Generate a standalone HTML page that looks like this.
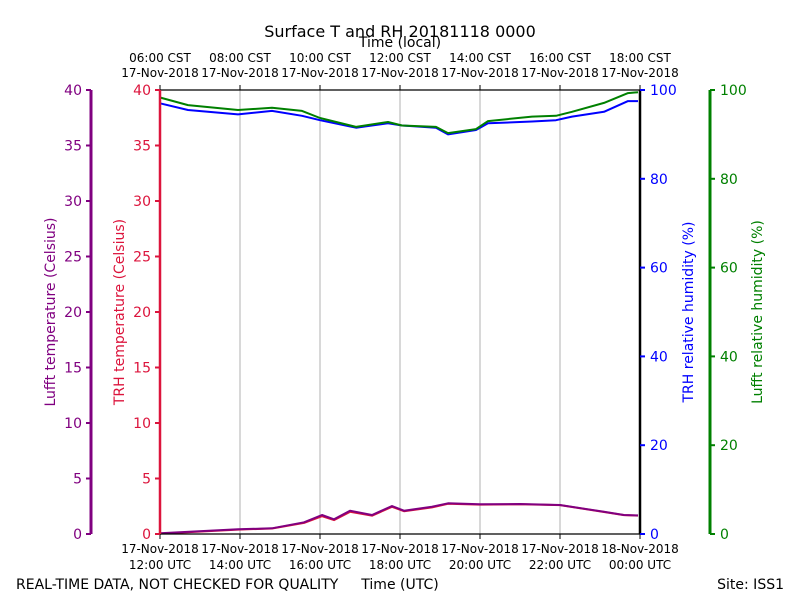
<!DOCTYPE html>
<html><head><meta charset="utf-8"><style>
body{margin:0;background:#fff;}
svg{display:block;font-family:"DejaVu Sans","Liberation Sans",sans-serif;}
</style></head><body>
<svg id="c" width="800" height="600"></svg>
<script>
const hoursT=[0,0.7,1.95,2.8,3.55,4,4.9,5.7,6.05,6.9,7.2,7.9,8.2,9.3,9.9,10.3,11.1,11.7,11.95];
const lufftRH=[98.3,96.6,95.5,96.0,95.3,93.7,91.7,92.8,92.0,91.7,90.3,91.2,93.0,94.0,94.2,95.1,97.1,99.3,99.5];
const trhRH=[97.0,95.5,94.5,95.3,94.2,93.2,91.5,92.5,92.0,91.5,90.0,91.0,92.5,92.9,93.2,94.0,95.1,97.5,97.5];
const hoursTemp=[0,1.95,2.8,3.6,4.05,4.35,4.75,5.3,5.8,6.1,6.8,7.2,8.0,9.0,10.0,11.1,11.6,11.95];
const lufftT=[0.06,0.42,0.51,1.05,1.71,1.32,2.1,1.71,2.52,2.1,2.46,2.77,2.68,2.7,2.61,2.0,1.71,1.68];
const trhT=[0.04,0.4,0.5,1.0,1.6,1.25,2.0,1.65,2.45,2.05,2.4,2.72,2.65,2.68,2.6,1.98,1.7,1.66];
const utcLabels=["12:00 UTC","14:00 UTC","16:00 UTC","18:00 UTC","20:00 UTC","22:00 UTC","00:00 UTC"];
const dateLabels=["17-Nov-2018","17-Nov-2018","17-Nov-2018","17-Nov-2018","17-Nov-2018","17-Nov-2018","18-Nov-2018"];
const cstLabels=["06:00 CST","08:00 CST","10:00 CST","12:00 CST","14:00 CST","16:00 CST","18:00 CST"];
const tempTicks=[0,5,10,15,20,25,30,35,40];
const rhTicks=[0,20,40,60,80,100];

const X0=160,X1=640,Y0=534,Y1=90;
const xs=h=>X0+(X1-X0)*h/12;
const yT=v=>Y0-(Y0-Y1)*v/40;
const yR=v=>Y0-(Y0-Y1)*v/100;
const svg=document.getElementById('c');
const NS='http://www.w3.org/2000/svg';
function mk(tag,attrs,txt){const e=document.createElementNS(NS,tag);for(const k in attrs)e.setAttribute(k,attrs[k]);if(txt!==undefined)e.textContent=txt;svg.appendChild(e);return e;}
// grid
for(let i=1;i<6;i++){const g=mk('line',{x1:xs(i*2),x2:xs(i*2),y1:Y1,y2:Y0,stroke:'#b0b0b0','stroke-width':1});

}
// series
function line(xv,yv,fx,fy,col,name,w){const p=xv.map((h,i)=>xs(h).toFixed(1)+','+fy(yv[i]).toFixed(1)).join(' ');
const e=mk('polyline',{points:p,fill:'none',stroke:col,'stroke-width':w,'stroke-linejoin':'round'});

}
line(hoursTemp,trhT,null,yT,'#dc143c','trh-temperature-line',2);
line(hoursTemp,lufftT,null,yT,'#800080','lufft-temperature-line',2);
line(hoursT,trhRH,null,yR,'#0000ff','trh-rh-line',2);
line(hoursT,lufftRH,null,yR,'#008000','lufft-rh-line',2);
// frame
mk('line',{x1:X0,x2:X1,y1:Y1,y2:Y1,stroke:'#000','stroke-width':1.2});
mk('line',{x1:X0,x2:X1,y1:Y0,y2:Y0,stroke:'#000','stroke-width':1.2});
mk('line',{x1:X0,x2:X0,y1:Y1,y2:Y0,stroke:'#dc143c','stroke-width':2.5});
mk('line',{x1:X1,x2:X1,y1:Y1,y2:Y0,stroke:'#000','stroke-width':2.5});
mk('line',{x1:91,x2:91,y1:Y1,y2:Y0,stroke:'#800080','stroke-width':3});
mk('line',{x1:710,x2:710,y1:Y1,y2:Y0,stroke:'#008000','stroke-width':3});
// x ticks
utcLabels.forEach((l,i)=>{const x=xs(i*2);
mk('line',{x1:x,x2:x,y1:Y0,y2:Y0+5,stroke:'#000'});mk('line',{x1:x,x2:x,y1:Y1,y2:Y1-5,stroke:'#000'});
const a=mk('text',{x:x,y:553,'font-size':12,'text-anchor':'middle'},dateLabels[i]);


const b=mk('text',{x:x,y:569,'font-size':12,'text-anchor':'middle'},l);


const c=mk('text',{x:x,y:62,'font-size':12,'text-anchor':'middle'},cstLabels[i]);


const d=mk('text',{x:x,y:77,'font-size':12,'text-anchor':'middle'},'17-Nov-2018');

});
// temp ticks
tempTicks.forEach(v=>{const y=yT(v);
mk('line',{x1:155,x2:160,y1:y,y2:y,stroke:'#dc143c','stroke-width':2});
mk('line',{x1:86,x2:91,y1:y,y2:y,stroke:'#800080','stroke-width':2});
const a=mk('text',{x:151,y:y+5,'font-size':14,'text-anchor':'end',fill:'#dc143c'},v);


const b=mk('text',{x:82,y:y+5,'font-size':14,'text-anchor':'end',fill:'#800080'},v);

});
rhTicks.forEach(v=>{const y=yR(v);
mk('line',{x1:640,x2:645,y1:y,y2:y,stroke:'#0000ff','stroke-width':2});
mk('line',{x1:710,x2:715,y1:y,y2:y,stroke:'#008000','stroke-width':2});
const a=mk('text',{x:650,y:y+5,'font-size':14,fill:'#0000ff'},v);


const b=mk('text',{x:720,y:y+5,'font-size':14,fill:'#008000'},v);

});
function t(x,y,s,txt,name,extra){const e=mk('text',Object.assign({x:x,y:y,'font-size':s},extra||{}),txt);

}
t(400,37,16,'Surface T and RH 20181118 0000','chart-title',{'text-anchor':'middle'});
t(400,47,14,'Time (local)','top-axis-title',{'text-anchor':'middle'});
t(400,589,14,'Time (UTC)','x-axis-title',{'text-anchor':'middle'});
t(16,589,14,'REAL-TIME DATA, NOT CHECKED FOR QUALITY','quality-note');
t(784,589,14,'Site: ISS1','site-label',{'text-anchor':'end'});
t(55,312,14,'Lufft temperature (Celsius)','lufft-temp-axis-title',{'text-anchor':'middle',fill:'#800080',transform:'rotate(-90 55 312)'});
t(124,312,14,'TRH temperature (Celsius)','trh-temp-axis-title',{'text-anchor':'middle',fill:'#dc143c',transform:'rotate(-90 124 312)'});
t(693,312,14,'TRH relative humidity (%)','trh-rh-axis-title',{'text-anchor':'middle',fill:'#0000ff',transform:'rotate(-90 693 312)'});
t(762,312,14,'Lufft relative humidity (%)','lufft-rh-axis-title',{'text-anchor':'middle',fill:'#008000',transform:'rotate(-90 762 312)'});
</script>
</body></html>
